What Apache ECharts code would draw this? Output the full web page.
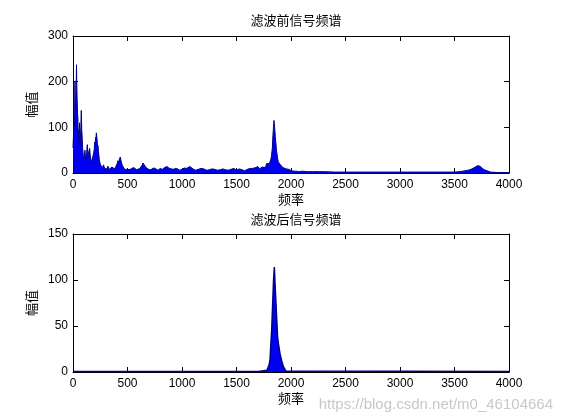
<!DOCTYPE html>
<html>
<head>
<meta charset="utf-8">
<script src="https://cdn.jsdelivr.net/npm/echarts@6/dist/echarts.min.js"></script>
<style>
  html, body { margin: 0; padding: 0; background: #fff; }
  #chart { width: 561px; height: 420px; }
</style>
</head>
<body>
<div id="chart"></div>
<script>
// 滤波前 spectrum: frequency (Hz) and amplitude
const beforeFreq = [0, 6, 10, 14, 18, 22, 25, 29, 32, 35, 38, 42, 45, 48, 52, 56, 60, 64, 68, 72, 76, 80, 84, 88, 92,
  96, 100, 105, 110, 115, 120, 126, 131, 136, 140, 146, 153, 159, 165, 171, 178, 184, 190, 195, 199, 203, 207,
  211, 214, 218, 222, 226, 229, 233, 237, 241, 245, 252, 260, 270, 280, 290, 300, 310, 320, 332, 345, 357, 370,
  382, 395, 404, 413, 419, 425, 430, 434, 440, 445, 452, 459, 470, 480, 495, 510, 525, 540, 555, 570, 585, 600,
  612, 625, 634, 642, 651, 660, 670, 680, 700, 720, 740, 760, 780, 800, 820, 840, 851, 862, 873, 885, 900, 920,
  940, 960, 980, 1000, 1020, 1040, 1058, 1073, 1086, 1100, 1125, 1150, 1175, 1200, 1225, 1250, 1275, 1300, 1325,
  1350, 1375, 1400, 1425, 1450, 1475, 1500, 1525, 1550, 1575, 1600, 1625, 1650, 1675, 1697, 1710, 1720, 1735,
  1750, 1765, 1777, 1790, 1800, 1808, 1815, 1820, 1825, 1829, 1832, 1835, 1838, 1841, 1844, 1847, 1850, 1853,
  1856, 1859, 1862, 1866, 1870, 1876, 1883, 1889, 1895, 1902, 1910, 1925, 1940, 1955, 1970, 1980, 1991, 2000,
  2010, 2030, 2050, 2075, 2100, 2150, 2200, 2250, 2300, 2400, 2500, 2600, 2700, 2800, 2900, 3000, 3100, 3200,
  3300, 3400, 3500, 3550, 3600, 3620, 3640, 3655, 3670, 3680, 3690, 3700, 3710, 3715, 3720, 3728, 3735, 3742,
  3750, 3760, 3770, 3785, 3800, 3830, 3900, 4000]
const beforeAmp = [55, 90, 120, 105, 200, 140, 150, 185, 237, 190, 160, 130, 120, 80, 95, 70, 110, 60, 75, 100, 137,
  95, 80, 55, 45, 28, 30, 42, 50, 30, 35, 45, 62, 35, 40, 48, 54, 35, 30, 22, 25, 38, 45, 52, 68, 60, 78, 72,
  88, 80, 70, 55, 60, 48, 40, 30, 25, 18, 15, 11, 18, 10, 12, 9, 15, 8, 10, 13, 12, 9, 15, 20, 27, 22, 30, 26,
  35, 28, 22, 17, 14, 9, 10, 7, 11, 8, 8, 12, 10, 7, 8, 10, 12, 17, 22, 19, 18, 12, 10, 7, 8, 11, 9, 6, 10,
  8, 12, 9, 14, 11, 10, 7, 8, 10, 9, 6, 8, 11, 10, 8, 14, 10, 9, 6, 8, 10, 9, 6, 7, 9, 8, 6, 7, 9, 7, 6, 8,
  10, 6, 9, 7, 5, 8, 10, 10, 12, 14, 9, 10, 13, 15, 12, 21, 17, 20, 25, 30, 36, 40, 55, 72, 85, 95, 108, 115,
  112, 100, 90, 80, 70, 64, 50, 45, 33, 25, 22, 20, 18, 16, 12, 12, 9, 10, 8, 10, 5, 6, 4, 4, 3, 4, 3, 3, 3,
  3, 2, 2, 2, 2, 2, 2, 2, 2, 2, 2, 2, 2, 3, 5, 6, 7, 9, 10, 12, 13, 15, 16, 17, 17, 16, 15, 13, 11, 9, 8, 6,
  4, 2, 1, 1]

// 滤波后 spectrum
const afterFreq = [0, 1700, 1780, 1800, 1808, 1815, 1823, 1832, 1840, 1847, 1854, 1862, 1870, 1877, 1888, 1899,
  1915, 1929, 1953, 1970, 4000]
const afterAmp = [0.5, 0.5, 2, 8, 14, 30, 46, 75, 100, 114, 95, 75, 55, 38, 28, 20,
  12, 6, 1, 0.5, 0.5]

const xTicks = { min: 0, max: 4000, interval: 500 }
const yTicksTop = { min: 0, max: 300, interval: 100 }
const yTicksBottom = { min: 0, max: 150, interval: 50 }

const cjk = '"Noto Sans CJK SC", sans-serif'
const latin = '"Liberation Sans", Arial, sans-serif'

function pair(a, b) {
  return a.map((f, i) => [f, b[i]])
}

function xAxes(gridIndex, withName) {
  const base = {
    type: 'value', gridIndex: gridIndex,
    min: xTicks.min, max: xTicks.max, interval: xTicks.interval,
    axisLine: { show: true, onZero: false, lineStyle: { color: '#000', width: 1 } },
    axisTick: { show: true, inside: true, length: 5, lineStyle: { color: '#000' } },
    splitLine: { show: false }
  }
  return [
    Object.assign({}, base, {
      position: 'bottom',
      axisLabel: { color: '#000', fontFamily: latin, fontSize: 12, margin: 6, formatter: v => String(v) },
      name: withName, nameLocation: 'middle', nameGap: 20,
      nameTextStyle: { color: '#000', fontFamily: cjk, fontSize: 13 }
    }),
    Object.assign({}, base, { position: 'top', axisLabel: { show: false } })
  ]
}

function yAxes(gridIndex, t) {
  const base = {
    type: 'value', gridIndex: gridIndex,
    min: t.min, max: t.max, interval: t.interval,
    axisLine: { show: true, onZero: false, lineStyle: { color: '#000', width: 1 } },
    axisTick: { show: true, inside: true, length: 5, lineStyle: { color: '#000' } },
    splitLine: { show: false }
  }
  return [
    Object.assign({}, base, {
      position: 'left',
      axisLabel: { color: '#000', fontFamily: latin, fontSize: 12, margin: 5, formatter: v => String(v) },
      name: '幅值', nameLocation: 'middle', nameGap: 32,
      nameTextStyle: { color: '#000', fontFamily: cjk, fontSize: 13 }
    }),
    Object.assign({}, base, { position: 'right', axisLabel: { show: false } })
  ]
}

const chart = echarts.init(document.getElementById('chart'), null, { renderer: 'canvas' })

const blue = '#0000f0'

chart.setOption({
  backgroundColor: '#fff',
  animation: false,
  title: [
    { text: '滤波前信号频谱', left: 291, top: 9, textAlign: 'center',
      textStyle: { fontFamily: cjk, fontSize: 13, fontWeight: 'normal', color: '#000' } },
    { text: '滤波后信号频谱', left: 291, top: 208, textAlign: 'center',
      textStyle: { fontFamily: cjk, fontSize: 13, fontWeight: 'normal', color: '#000' } }
  ],
  grid: [
    { left: 73, top: 36, width: 436, height: 137 },
    { left: 73, top: 234, width: 436, height: 138 }
  ],
  xAxis: [].concat(xAxes(0, '频率'), xAxes(1, '频率')),
  yAxis: [].concat(yAxes(0, yTicksTop), yAxes(1, yTicksBottom)),
  series: [
    {
      type: 'line', xAxisIndex: 0, yAxisIndex: 0,
      data: pair(beforeFreq, beforeAmp),
      showSymbol: false,
      lineStyle: { color: '#00008c', width: 1 },
      areaStyle: { color: blue, opacity: 1 }
    },
    {
      type: 'line', xAxisIndex: 2, yAxisIndex: 2,
      data: pair(afterFreq, afterAmp),
      showSymbol: false,
      lineStyle: { color: '#00008c', width: 1.5 },
      areaStyle: { color: blue, opacity: 1 }
    }
  ],
  graphic: [
    {
      type: 'text', right: 8, bottom: 8,
      style: {
        text: 'https://blog.csdn.net/m0_46104664',
        fill: '#c8c8c8', font: '15px ' + latin
      }
    }
  ]
})
</script>
</body>
</html>
